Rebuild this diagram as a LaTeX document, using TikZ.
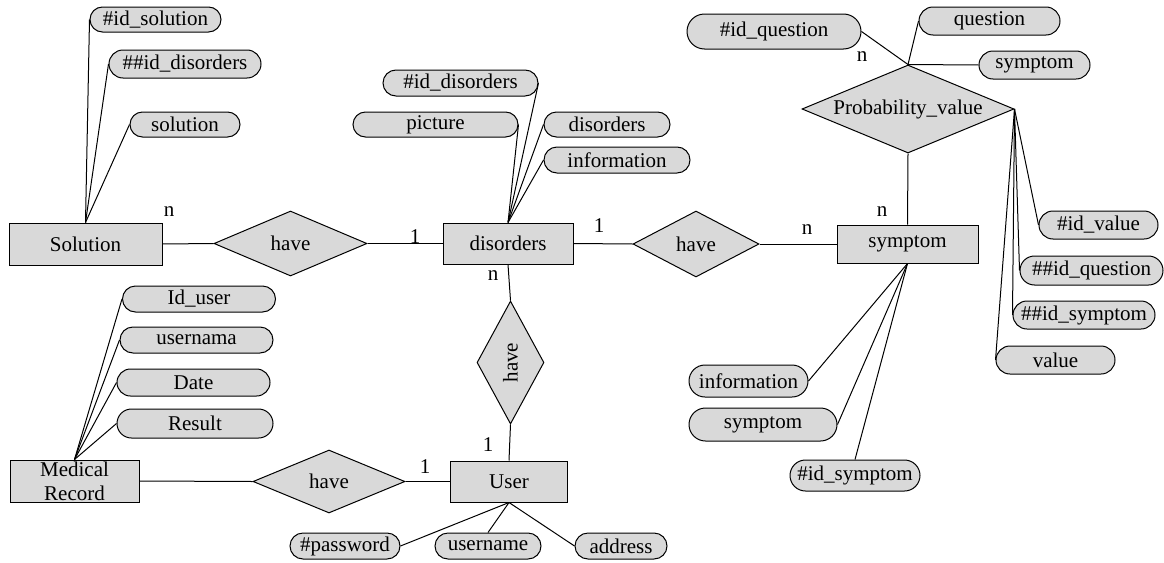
\documentclass[tikz,border=0pt]{standalone}
\usepackage{fontspec}
\setmainfont{Liberation Serif}
\usepackage{graphicx}
\usetikzlibrary{shapes.geometric}
\definecolor{erfill}{HTML}{D9D9D9}
\begin{document}
\begin{tikzpicture}[x=1pt,y=-1pt,line width=1pt,
 every node/.style={font=\fontsize{21}{24}\selectfont},
 ent/.style 2 args={draw, fill=erfill, rectangle, inner sep=0pt, minimum width=#1pt, minimum height=#2pt},
 attrb/.style 2 args={draw, fill=erfill, rectangle, rounded corners=#2*0.5pt, inner sep=0pt, minimum width=#1pt, minimum height=#2pt},
 rel/.style 2 args={draw, fill=erfill, diamond, inner sep=0pt, minimum width=#1pt, minimum height=#2pt},
 card/.style={inner sep=0pt}]
\useasboundingbox (0,0) rectangle (1164,562);
% entities
\node[ent={153}{42}] (sol) at (85.5,244) {Solution};
\node[ent={130}{41}] (dis) at (508,243.5) {disorders};
\node[ent={141}{38}] (sym) at (907.5,244) {symptom};
\node[ent={129}{42}, align=center] (med) at (74.5,481) {Medical\\Record};
\node[ent={117}{41}] (usr) at (509,481.5) {User};
% relationships
\node[rel={153}{65}, aspect=2] (r1) at (290.5,243.5) {have};
\node[rel={126}{66}, aspect=2] (r2) at (696,244) {have};
\node[rel={67}{123}, aspect=0.5] (r3) at (510.5,362.5) {\rotatebox{90}{have}};
\node[rel={152}{63}, aspect=2] (r4) at (329,481.5) {have};
\node[rel={212}{88}, aspect=2.5] (pv) at (908,109) {Probability\_value};
% attributes of Solution
\node[attrb={131}{25}] (a1) at (155.5,19.5) {\#id\_solution};
\node[attrb={152}{28}] (a2) at (185,64) {\#\#id\_disorders};
\node[attrb={110}{25}] (a3) at (185,124.5) {solution};
% attributes of disorders
\node[attrb={155}{26}] (d1) at (460.5,83) {\#id\_disorders};
\node[attrb={165}{25}] (d2) at (435.5,124.5) {picture};
\node[attrb={126}{25}] (d3) at (607,124.5) {disorders};
\node[attrb={146}{26}] (d4) at (617,160) {information};
% attributes of Probability_value
\node[attrb={174}{35}] (p1) at (774,31.5) {\#id\_question};
\node[attrb={141}{28}] (p2) at (989.5,21) {question};
\node[attrb={111}{28}] (p3) at (1034.5,65) {symptom};
\node[attrb={119}{28}] (p4) at (1098.5,225) {\#id\_value};
\node[attrb={143}{29}] (p5) at (1091.5,270.5) {\#\#id\_question};
\node[attrb={142}{28}] (p6) at (1084,315) {\#\#id\_symptom};
\node[attrb={119}{28}] (p7) at (1055.5,360) {value};
% attributes of symptom
\node[attrb={119}{32}] (s1) at (748.5,381) {information};
\node[attrb={148}{33}] (s2) at (763,424.5) {symptom};
\node[attrb={130}{31}] (s3) at (855,475.5) {\#id\_symptom};
% attributes of Medical Record
\node[attrb={153}{26}] (m1) at (199,299) {Id\_user};
\node[attrb={153}{26}] (m2) at (196.5,340) {usernama};
\node[attrb={153}{27}] (m3) at (193.5,382.5) {Date};
\node[attrb={156}{29}] (m4) at (195,423.5) {Result};
% attributes of User
\node[attrb={110}{26}] (u1) at (345,546) {\#password};
\node[attrb={106}{26}] (u2) at (488,546) {username};
\node[attrb={92}{26}] (u3) at (621,546) {address};
% cardinalities
\node[card] (c1) at (169,212) {n};
\node[card] (c2) at (415,237) {1};
\node[card] (c3) at (599,226) {1};
\node[card] (c4) at (493,276) {n};
\node[card] (c5) at (807,230) {n};
\node[card] (c6) at (882,212) {n};
\node[card] (c7) at (862,57) {n};
\node[card] (c8) at (488,445) {1};
\node[card] (c9) at (425,467) {1};
% relationship connectors
\draw (sol.east) -- (r1.west);
\draw (r1.east) -- (dis.west);
\draw (dis.east) -- (r2.west);
\draw (r2.east) -- (sym.west);
\draw (dis.south) -- (r3.north);
\draw (r3.south) -- (usr.north);
\draw (med.east) -- (r4.west);
\draw (r4.east) -- (usr.west);
\draw (pv.south) -- (sym.north);
% attribute connectors
\draw (sol.north) -- (a1.west);
\draw (sol.north) -- (a2.west);
\draw (sol.north) -- (a3.west);
\draw (dis.north) -- (d1.east);
\draw (dis.north) -- (d2.east);
\draw (dis.north) -- (d3.west);
\draw (dis.north) -- (d4.west);
\draw (pv.north) -- (p1.east);
\draw (pv.north) -- (p2.west);
\draw (pv.north) -- (p3.west);
\draw (pv.east) -- (p4.west);
\draw (pv.east) -- (p5.west);
\draw (pv.east) -- (p6.west);
\draw (pv.east) -- (p7.west);
\draw (sym.south) -- (s1.east);
\draw (sym.south) -- (s2.east);
\draw (sym.south) -- (s3.north);
\draw (med.north) -- (m1.west);
\draw (med.north) -- (m2.west);
\draw (med.north) -- (m3.west);
\draw (med.north) -- (m4.west);
\draw (usr.south) -- (u1.east);
\draw (usr.south) -- (u2.north);
\draw (usr.south) -- (u3.west);
\end{tikzpicture}
\end{document}
